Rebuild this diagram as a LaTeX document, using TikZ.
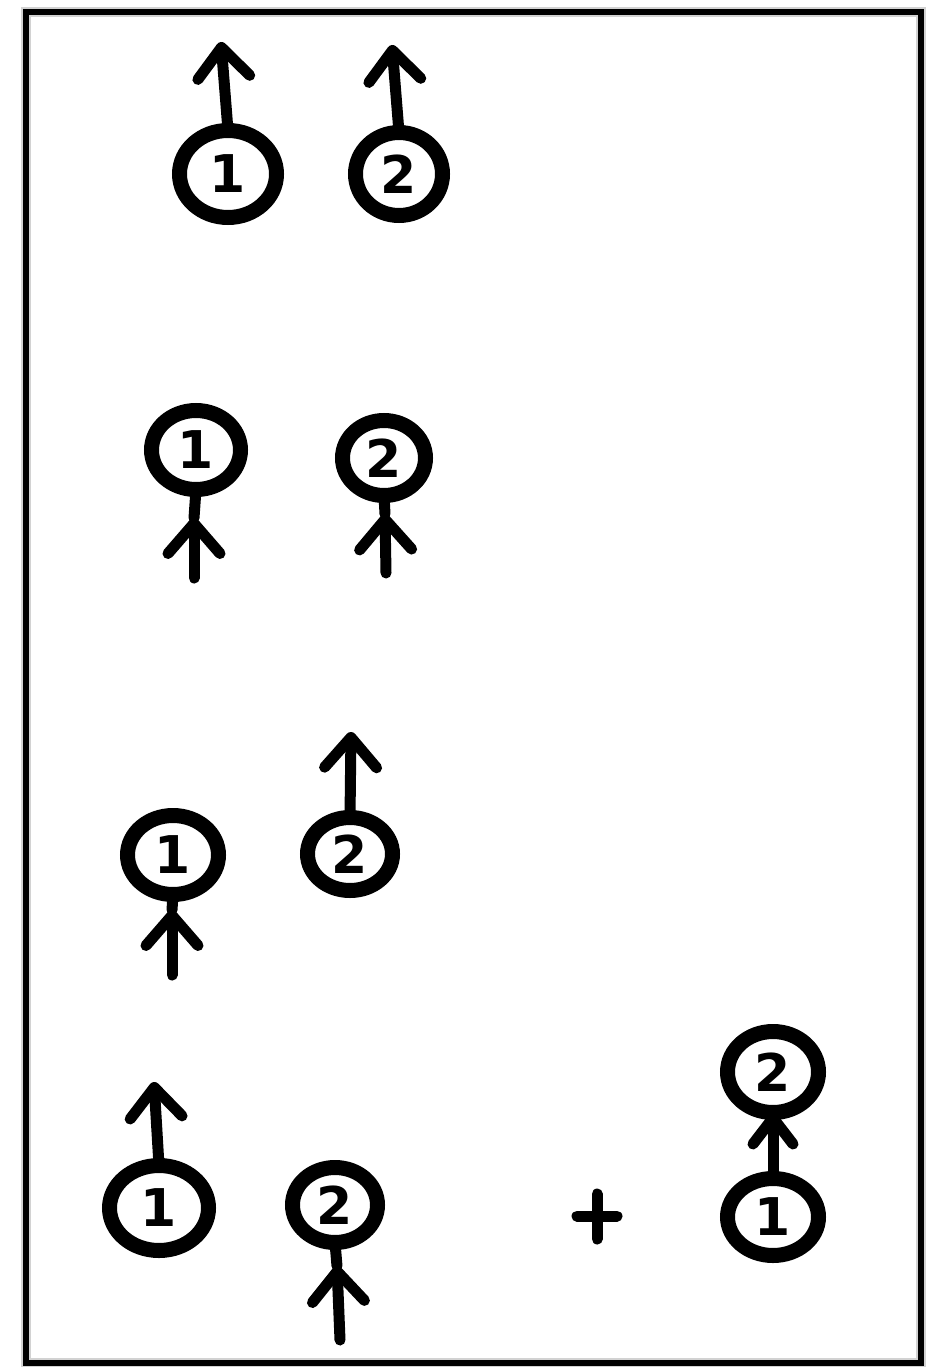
\documentclass[tikz,border=0pt]{standalone}
\usepackage{fontspec}
\setsansfont{DejaVu Sans}
\usetikzlibrary{arrows.meta,shapes.geometric}
\tikzset{
  ball/.style={ellipse, draw, line width=15pt, inner sep=0pt, outer sep=0pt,
    font=\fontsize{52}{52}\selectfont\sffamily\bfseries},
  shaft/.style={line width=11pt, line cap=round},
  spin/.style={shaft, -{Straight Barb[length=30pt,width=52pt,round]}},
}
\begin{document}
\begin{tikzpicture}[x=1pt,y=-1pt]
\useasboundingbox (0,0) rectangle (927,1367);
\fill[white] (0,0) rectangle (927,1367);
\draw[gray!35, line width=10pt] (26,12) rectangle (921,1363);
\draw[black, line width=6pt] (26,12) rectangle (921,1363);

% row 1
\node[ball, minimum width=97pt, minimum height=87pt] (a1) at (228,174) {1};
\node[ball, minimum width=87pt, minimum height=83pt] (a2) at (399,174) {2};
\coordinate (ta1) at (221,42);
\coordinate (ta2) at (392,45);
\draw[spin] (a1.north) -- (ta1);
\draw[spin] (a2.north) -- (ta2);

% row 2
\node[ball, minimum width=89pt, minimum height=79pt] (b1) at (196,450) {1};
\node[ball, minimum width=83pt, minimum height=75pt] (b2) at (384,458) {2};
\coordinate (bb1) at (194,578);
\coordinate (bm1) at (194,518);
\coordinate (bb2) at (386,573);
\coordinate (bm2) at (385,514);
\draw[spin] (bb1) -- (bm1);
\draw[shaft] (bm1) -- (b1.south);
\draw[spin] (bb2) -- (bm2);
\draw[shaft] (bm2) -- (b2.south);

% row 3
\node[ball, minimum width=91pt, minimum height=79pt] (c1) at (173,855) {1};
\node[ball, minimum width=85pt, minimum height=73pt] (c2) at (350,854) {2};
\coordinate (cb1) at (172,975);
\coordinate (cm1) at (172,910);
\coordinate (tc2) at (351,732);
\draw[spin] (cb1) -- (cm1);
\draw[shaft] (cm1) -- (c1.south);
\draw[spin] (c2.north) -- (tc2);

% row 4
\node[ball, minimum width=99pt, minimum height=85pt] (d1) at (159,1208) {1};
\node[ball, minimum width=85pt, minimum height=75pt] (d2) at (335,1205) {2};
\coordinate (td1) at (154,1082);
\coordinate (db2) at (340,1340);
\coordinate (dm2) at (337,1266);
\draw[spin] (d1.north) -- (td1);
\draw[spin] (db2) -- (dm2);
\draw[shaft] (dm2) -- (d2.south);

% plus
\coordinate (plus) at (597,1216);
\draw[shaft] ([xshift=-20pt]plus) -- ([xshift=20pt]plus);
\draw[shaft] ([yshift=-23pt]plus) -- ([yshift=22pt]plus);

% right pair
\node[ball, minimum width=91pt, minimum height=81pt] (r2) at (773,1072) {2};
\node[ball, minimum width=91pt, minimum height=77pt] (r1) at (773,1217) {1};
\draw[shaft, -{Straight Barb[length=26pt,width=40pt,round]}] (r1.north) -- (r2.south);
\end{tikzpicture}
\end{document}
